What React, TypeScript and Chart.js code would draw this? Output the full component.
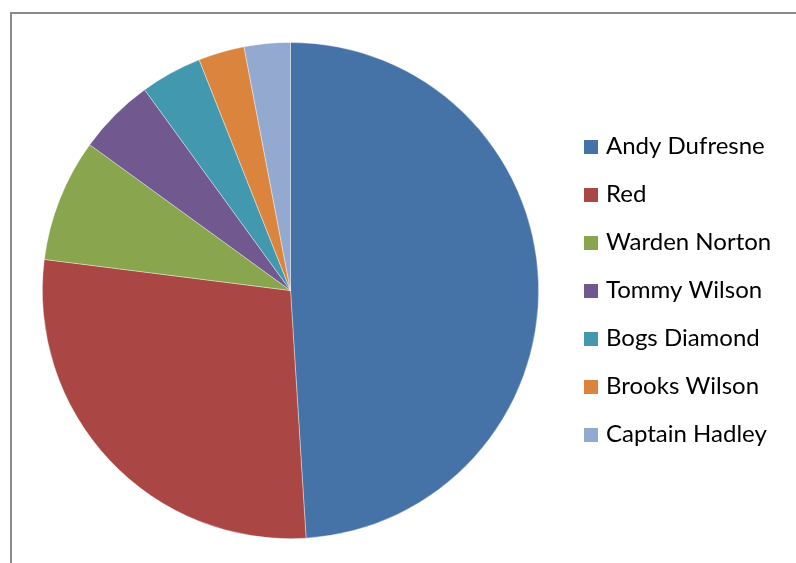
import React, { useEffect, useRef } from "react";
import { Chart, registerables } from "chart.js";

Chart.register(...registerables);

const categories = [
  "Andy Dufresne",
  "Red",
  "Warden Norton",
  "Tommy Wilson",
  "Bogs Diamond",
  "Brooks Wilson",
  "Captain Hadley",
];
const values = [49, 28, 8, 5, 4, 3, 3];
const colors = ["#4572A7", "#AA4643", "#89A54E", "#71588F", "#4198AF", "#DB843D", "#93A9CF"];

const FONT_FAMILY = "Lato";
const FONT_SIZE = 24;
const BOX = 14;
const BOX_SLOT = 6;
const ROW_PAD = 24;
const W = 796;
const H = 563;

export default function App() {
  const ref = useRef<HTMLCanvasElement>(null);

  useEffect(() => {
    document.body.style.margin = "0";
    const canvas = ref.current!;
    const m = document.createElement("canvas").getContext("2d")!;
    m.font = `normal ${FONT_SIZE}px ${FONT_FAMILY}`;
    const maxText = Math.max(...categories.map((c) => m.measureText(c).width));
    const itemX = 588;
    const maxItemW = BOX_SLOT + FONT_SIZE / 2 + maxText;
    const padRight = W - itemX - maxItemW - 10;
    const chartRight = itemX - ROW_PAD;
    const centerX = 290.5;
    const padLeft = 2 * centerX - chartRight;

    const swatches = colors.map((c) => {
      const s = document.createElement("canvas");
      s.width = BOX;
      s.height = BOX;
      const x = s.getContext("2d")!;
      x.fillStyle = c;
      x.fillRect(0, 0, BOX, BOX);
      return s;
    });

    const chart = new Chart(canvas, {
      type: "pie",
      data: {
        labels: categories,
        datasets: [
          {
            data: values,
            backgroundColor: colors,
            borderColor: "rgba(255,255,255,0.5)",
            borderWidth: 0.75,
          },
        ],
      },
      options: {
        responsive: false,
        animation: false,
        layout: { padding: { top: 42, bottom: 24, left: padLeft, right: padRight } },
        plugins: {
          legend: {
            position: "right",
            align: "center",
            labels: {
              usePointStyle: true,
              pointStyleWidth: BOX_SLOT,
              boxHeight: FONT_SIZE,
              padding: ROW_PAD,
              color: "#000000",
              font: { family: FONT_FAMILY, size: FONT_SIZE },
              generateLabels: () =>
                categories.map((c, i) => ({
                  text: c,
                  fillStyle: colors[i],
                  strokeStyle: colors[i],
                  lineWidth: 0,
                  pointStyle: swatches[i] as any,
                  hidden: false,
                  index: i,
                  datasetIndex: 0,
                  fontColor: "#000000",
                })),
            },
          },
          tooltip: { enabled: false },
        },
      },
    });
    return () => chart.destroy();
  }, []);

  return (
    <div style={{ position: "fixed", left: 0, top: 0, width: W, height: H, background: "#fff" }}>
      <canvas ref={ref} width={W} height={H} style={{ position: "absolute", left: 0, top: 0 }} />
      <div
        style={{
          position: "absolute",
          left: 10,
          top: 12,
          right: 0,
          bottom: 0,
          borderLeft: "2px solid #8a8a8a",
          borderTop: "2px solid #8a8a8a",
          pointerEvents: "none",
        }}
      />
    </div>
  );
}
